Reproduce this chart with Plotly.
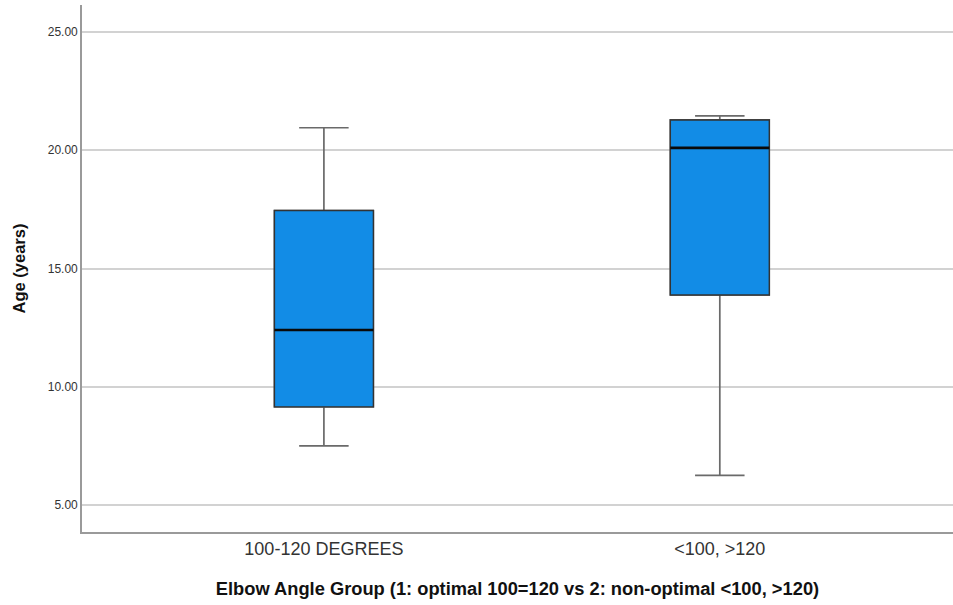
import plotly.graph_objects as go

categories = ["100-120 DEGREES", "<100, >120"]
lower_whisker = [7.50, 6.25]
q1_values = [9.15, 13.88]
median_values = [12.40, 20.10]
q3_values = [17.45, 21.28]
upper_whisker = [20.95, 21.45]
y_ticks = [5, 10, 15, 20, 25]
y_tick_labels = ["5.00", "10.00", "15.00", "20.00", "25.00"]

FILL = "#128ce6"
BOX_W = 0.25

fig = go.Figure()
# whiskers
fig.add_trace(go.Box(
    x=categories, q1=q1_values, median=median_values, q3=q3_values,
    lowerfence=lower_whisker, upperfence=upper_whisker,
    fillcolor=FILL, line=dict(color="#6a6a6a", width=1.7),
    width=BOX_W, whiskerwidth=0.5, boxpoints=False, hoverinfo="skip",
    showlegend=False,
))
# box outline
fig.add_trace(go.Box(
    x=categories, q1=q1_values, median=median_values, q3=q3_values,
    lowerfence=q1_values, upperfence=q3_values,
    fillcolor=FILL, line=dict(color="#333333", width=1.4),
    width=BOX_W, whiskerwidth=0, boxpoints=False, hoverinfo="skip",
    showlegend=False,
))
# median line
fig.add_trace(go.Box(
    x=categories, q1=median_values, median=median_values, q3=median_values,
    lowerfence=median_values, upperfence=median_values,
    fillcolor="rgba(0,0,0,0)", line=dict(color="#0a0a0a", width=2.6),
    width=BOX_W, whiskerwidth=0, boxpoints=False, hoverinfo="skip",
    showlegend=False,
))

fig.update_layout(
    width=953, height=605,
    margin=dict(l=82, r=0, t=5, b=73),
    paper_bgcolor="white", plot_bgcolor="white",
    boxmode="overlay",
    font=dict(family="Liberation Sans, Arial, sans-serif", color="#222222"),
    xaxis=dict(
        type="category", range=[-0.611, 1.589],
        showgrid=False, zeroline=False,
        showline=True, linecolor="#9a9a9a", linewidth=1.6,
        ticks="", tickfont=dict(size=18, color="#333333"),
        title=dict(text="<b>Elbow Angle Group (1: optimal 100=120 vs 2: non-optimal <100, >120)</b>",
                   font=dict(size=18.3, color="#111111"), standoff=24),
    ),
    yaxis=dict(
        range=[3.86, 26.14],
        tickvals=y_ticks, ticktext=y_tick_labels,
        showgrid=True, gridcolor="#d2d2d2", gridwidth=1.5,
        zeroline=False,
        showline=True, linecolor="#9a9a9a", linewidth=1.6,
        ticks="", tickfont=dict(size=12, color="#333333"),
        title=dict(text="<b>Age (years)</b>", font=dict(size=16.5, color="#111111"), standoff=18),
    ),
)

fig.write_html(
    "out.html",
    config={"displayModeBar": False},
    post_script="document.body.style.margin='0';document.body.style.overflow='hidden';",
)
